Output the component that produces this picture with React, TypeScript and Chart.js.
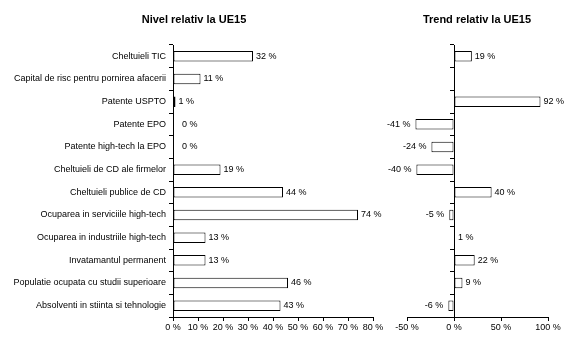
import React, { useEffect, useRef } from 'react';
import { Chart, registerables } from 'chart.js';

Chart.register(...registerables);

const categories = [
  'Cheltuieli TIC',
  'Capital de risc pentru pornirea afacerii',
  'Patente USPTO',
  'Patente EPO',
  'Patente high-tech la EPO',
  'Cheltuieli de CD ale firmelor',
  'Cheltuieli publice de CD',
  'Ocuparea in serviciile high-tech',
  'Ocuparea in industriile high-tech',
  'Invatamantul permanent',
  'Populatie ocupata cu studii superioare',
  'Absolventi in stiinta si tehnologie',
];

const levelValues: (number | null)[] = [32, 11, 1, 0, 0, 19, 44, 74, 13, 13, 46, 43];
const trendValues: (number | null)[] = [19, null, 92, -41, -24, -40, 40, -5, 1, 22, 9, -6];

const levelTitle = 'Nivel relativ la UE15';
const trendTitle = 'Trend relativ la UE15';

const levelAxis = { min: 0, max: 80, step: 10 };
const trendAxis = { min: -50, max: 100, step: 50 };

const FONT_FAMILY = '"Liberation Sans", Arial, sans-serif';

const valueLabels = {
  id: 'valueLabels',
  afterDatasetsDraw(chart: any) {
    const ctx = chart.ctx;
    const meta = chart.getDatasetMeta(0);
    const data = chart.data.datasets[0].data as (number | null)[];
    ctx.save();
    ctx.font = `9px ${FONT_FAMILY}`;
    ctx.fillStyle = '#000';
    ctx.textBaseline = 'middle';
    meta.data.forEach((bar: any, i: number) => {
      const v = data[i];
      if (v === null || v === undefined) return;
      const text = `${v} %`;
      if (v < 0) {
        ctx.textAlign = 'right';
        ctx.fillText(text, bar.x - 5, bar.y);
      } else {
        ctx.textAlign = 'left';
        ctx.fillText(text, bar.x + (v === 0 ? 9 : 3), bar.y);
      }
    });
    ctx.restore();
  },
};

const panelTitle = {
  id: 'panelTitle',
  afterDraw(chart: any, _args: any, opts: any) {
    const ctx = chart.ctx;
    ctx.save();
    ctx.font = `bold 11px ${FONT_FAMILY}`;
    ctx.fillStyle = '#000';
    ctx.textAlign = 'center';
    ctx.textBaseline = 'middle';
    ctx.fillText(opts.text, opts.x, opts.y);
    ctx.restore();
  },
};

function buildConfig(
  values: (number | null)[],
  axis: { min: number; max: number; step: number },
  title: string,
  titleX: number,
  showCategories: boolean,
  padLeft: number,
  padRight: number
): any {
  const tickFont = { family: FONT_FAMILY, size: 9 };
  return {
    type: 'bar',
    data: {
      labels: categories,
      datasets: [
        {
          data: values,
          backgroundColor: '#ffffff',
          borderColor: '#000000',
          borderWidth: 1,
          borderSkipped: false,
          barPercentage: 0.46,
          categoryPercentage: 1,
        },
      ],
    },
    options: {
      indexAxis: 'y',
      responsive: false,
      animation: false,
      layout: { padding: { left: padLeft, right: padRight, top: 45, bottom: 0 } },
      plugins: {
        legend: { display: false },
        tooltip: { enabled: false },
        panelTitle: { text: title, x: titleX, y: 20 },
      },
      scales: {
        x: {
          type: 'linear',
          min: axis.min,
          max: axis.max,
          ticks: {
            stepSize: axis.step,
            color: '#000',
            font: tickFont,
            padding: 1,
            maxRotation: 0,
            callback: (v: any) => `${v} %`,
          },
          grid: { drawOnChartArea: false, tickLength: 4, color: '#000' },
          border: { color: '#000', width: 1 },
          afterFit: (s: any) => {
            s.height = 35;
          },
        },
        y: {
          type: 'category',
          position: showCategories ? 'left' : { x: 0 },
          ticks: {
            display: showCategories,
            color: '#000',
            font: tickFont,
            padding: 3,
            autoSkip: false,
          },
          grid: { drawOnChartArea: false, tickLength: 4, color: '#000', offset: true },
          border: { color: '#000', width: 1 },
          afterFit: (s: any) => {
            s.width = showCategories ? 173 : 0;
          },
        },
      },
    },
    plugins: [valueLabels, panelTitle],
  };
}

export default function App() {
  const leftRef = useRef<HTMLCanvasElement>(null);
  const rightRef = useRef<HTMLCanvasElement>(null);

  useEffect(() => {
    Chart.defaults.font.family = FONT_FAMILY;
    Chart.defaults.color = '#000';
    const left = new Chart(
      leftRef.current as HTMLCanvasElement,
      buildConfig(levelValues, levelAxis, levelTitle, 194, true, 0, 17)
    );
    const right = new Chart(
      rightRef.current as HTMLCanvasElement,
      buildConfig(trendValues, trendAxis, trendTitle, 117, false, 47, 27)
    );
    return () => {
      left.destroy();
      right.destroy();
    };
  }, []);

  return (
    <div
      style={{
        position: 'fixed',
        left: 0,
        top: 0,
        width: 575,
        height: 352,
        background: '#fff',
        overflow: 'hidden',
      }}
    >
      <canvas
        ref={leftRef}
        width={390}
        height={352}
        style={{ position: 'absolute', left: 0, top: 0, width: 390, height: 352 }}
      />
      <canvas
        ref={rightRef}
        width={215}
        height={352}
        style={{ position: 'absolute', left: 360, top: 0, width: 215, height: 352 }}
      />
    </div>
  );
}
